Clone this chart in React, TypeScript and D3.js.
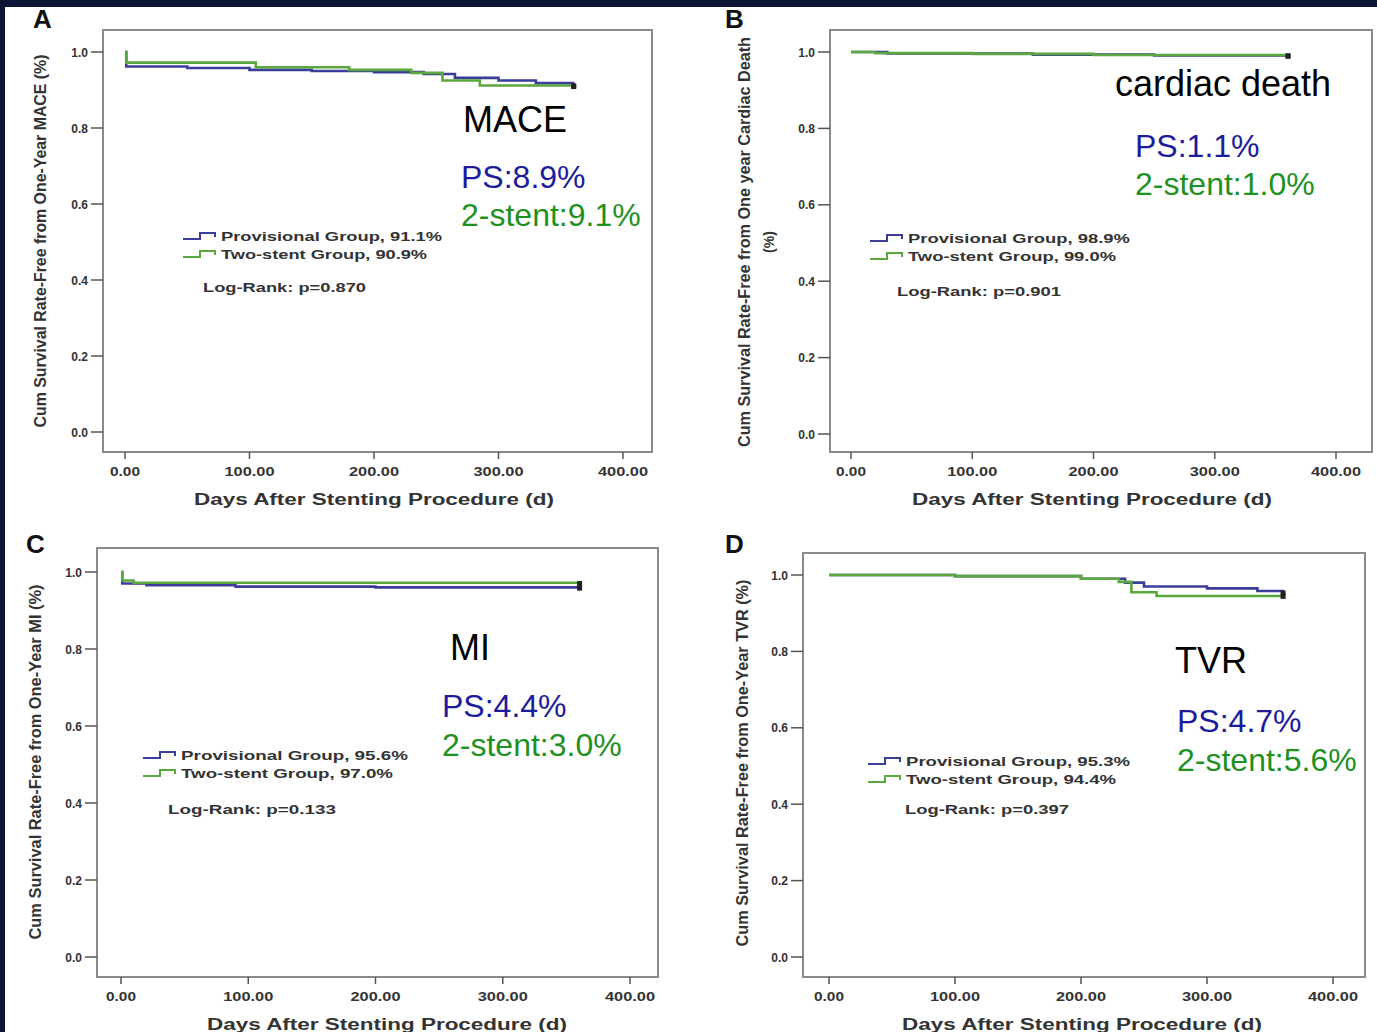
import React from "react";
import * as d3 from "d3";

// survival curves, [day, cum survival]
const maceProv = [[0, 1], [1, 0.962], [50, 0.958], [100, 0.953], [150, 0.95], [200, 0.947], [240, 0.942], [265, 0.932], [300, 0.925], [330, 0.918], [360, 0.911]];
const maceTwo = [[0, 1], [1, 0.972], [105, 0.96], [180, 0.953], [230, 0.945], [255, 0.925], [285, 0.912], [360, 0.909]];
const deathProv = [[0, 1], [30, 0.996], [150, 0.993], [250, 0.991], [360, 0.989]];
const deathTwo = [[0, 1], [20, 0.997], [100, 0.995], [200, 0.992], [360, 0.99]];
const miProv = [[0, 1], [1, 0.97], [20, 0.966], [90, 0.962], [200, 0.96], [360, 0.958]];
const miTwo = [[0, 1], [1, 0.978], [10, 0.972], [360, 0.97]];
const tvrProv = [[0, 1], [100, 0.997], [200, 0.99], [235, 0.98], [250, 0.97], [300, 0.965], [340, 0.958], [360, 0.953]];
const tvrTwo = [[0, 1], [100, 0.997], [200, 0.99], [230, 0.982], [240, 0.955], [260, 0.945], [360, 0.944]];

const xTicks = [0, 100, 200, 300, 400];
const yTicks = [0, 0.2, 0.4, 0.6, 0.8, 1.0];

const letters = ["A", "B", "C", "D"];
const yTitles = [
  ["Cum Survival Rate-Free from One-Year MACE (%)"],
  ["Cum Survival Rate-Free from One year Cardiac Death", "(%)"],
  ["Cum Survival Rate-Free from One-Year MI (%)"],
  ["Cum Survival Rate-Free from One-Year TVR (%)"],
];
const endpoints = ["MACE", "cardiac death", "MI", "TVR"];
const psRates = ["PS:8.9%", "PS:1.1%", "PS:4.4%", "PS:4.7%"];
const twoRates = ["2-stent:9.1%", "2-stent:1.0%", "2-stent:3.0%", "2-stent:5.6%"];
const provLegend = ["Provisional Group, 91.1%", "Provisional Group, 98.9%", "Provisional Group, 95.6%", "Provisional Group, 95.3%"];
const twoLegend = ["Two-stent Group, 90.9%", "Two-stent Group, 99.0%", "Two-stent Group, 97.0%", "Two-stent Group, 94.4%"];
const logRank = ["Log-Rank: p=0.870", "Log-Rank: p=0.901", "Log-Rank: p=0.133", "Log-Rank: p=0.397"];

const curves = [
  [maceProv, maceTwo],
  [deathProv, deathTwo],
  [miProv, miTwo],
  [tvrProv, tvrTwo],
];

// layout of each panel
const panels = [
  { frame: [103, 30, 652, 452], x: [125, 623], y: [432, 52], letter: [33, 28], title: { x: 46, cy: 241, len: 373 },
    xt: { cx: 374, y: 505 }, label: [463, 132], ps: [461, 188], two: [461, 226], leg: [183, 236], legW: [221, 206], lr: [203, 292, 163] },
  { frame: [830, 30, 1372, 452], x: [851, 1336], y: [434, 52], letter: [725, 28], title: { x: 750, cy: 242, len: 410, x2: 774 },
    xt: { cx: 1092, y: 505 }, label: [1115, 96], ps: [1135, 157], two: [1135, 195], leg: [870, 238], legW: [222, 208], lr: [897, 296, 164] },
  { frame: [97, 548, 658, 977], x: [121, 630], y: [957, 572], letter: [26, 553], title: { x: 41, cy: 762, len: 355 },
    xt: { cx: 387, y: 1030 }, label: [450, 660], ps: [442, 717], two: [442, 756], leg: [143, 755], legW: [227, 212], lr: [168, 814, 168] },
  { frame: [803, 553, 1365, 977], x: [829, 1333], y: [957, 575], letter: [725, 553], title: { x: 748, cy: 763, len: 367 },
    xt: { cx: 1082, y: 1030 }, label: [1175, 673], ps: [1177, 732], two: [1177, 771], leg: [868, 761], legW: [224, 210], lr: [905, 814, 164] },
];

const BLUE = "#3b3d9a";
const GREEN = "#5aa83e";
const font = "Liberation Sans, Arial, sans-serif";
const narrow = "Liberation Sans Narrow, Liberation Sans, Arial, sans-serif";

const Panel = ({ i }: { i: number }) => {
  const p = panels[i];
  const [fx0, fy0, fx1, fy1] = p.frame;
  const x = d3.scaleLinear().domain([0, 400]).range(p.x);
  const y = d3.scaleLinear().domain([0, 1]).range(p.y);
  const line = d3
    .line<number[]>()
    .x((d) => x(d[0]))
    .y((d) => y(d[1]))
    .curve(d3.curveStepAfter);
  const colors = [BLUE, GREEN];
  const step = (lx: number, ly: number) => `M${lx},${ly + 3}H${lx + 17}V${ly - 3}H${lx + 32}V${ly + 1}`;
  return (
    <g>
      <rect x={fx0} y={fy0} width={fx1 - fx0} height={fy1 - fy0} fill="none" stroke="#8a8a8a" strokeWidth={2} />
      {yTicks.map((t) => (
        <g key={t}>
          <line x1={fx0 - 12} x2={fx0} y1={y(t)} y2={y(t)} stroke="#555" strokeWidth={1.5} />
          <text x={fx0 - 15} y={y(t) + 4.5} textAnchor="end" fontFamily={font} fontWeight="bold" fontSize={12} fill="#333">
            {t.toFixed(1)}
          </text>
        </g>
      ))}
      {xTicks.map((t) => (
        <g key={t}>
          <line x1={x(t)} x2={x(t)} y1={fy1} y2={fy1 + 7} stroke="#555" strokeWidth={1.5} />
          <text x={x(t)} y={fy1 + 24} textAnchor="middle" fontFamily={narrow} fontWeight="bold" fontSize={13} fill="#333"
            textLength={t === 0 ? 30 : 50} lengthAdjust="spacingAndGlyphs">
            {t.toFixed(2)}
          </text>
        </g>
      ))}
      <text x={p.xt.cx} y={p.xt.y} textAnchor="middle" fontFamily={font} fontWeight="bold" fontSize={16} fill="#333"
        textLength={360} lengthAdjust="spacingAndGlyphs">
        Days After Stenting Procedure (d)
      </text>
      <text transform={`translate(${p.title.x},${p.title.cy}) rotate(-90)`} textAnchor="middle" fontFamily={narrow}
        fontWeight="bold" fontSize={16} fill="#333" textLength={p.title.len} lengthAdjust="spacingAndGlyphs">
        {yTitles[i][0]}
      </text>
      {yTitles[i][1] && (
        <text transform={`translate(${p.title.x2},${p.title.cy}) rotate(-90)`} textAnchor="middle" fontFamily={narrow}
          fontWeight="bold" fontSize={14} fill="#333">
          {yTitles[i][1]}
        </text>
      )}
      <text x={p.letter[0]} y={p.letter[1]} fontFamily={font} fontWeight="bold" fontSize={26} fill="#111">
        {letters[i]}
      </text>
      {curves[i].map((c, k) => (
        <g key={k}>
          <path d={line(c as number[][]) || ""} fill="none" stroke={colors[k]} strokeWidth={2.6} />
          <rect x={x(c[c.length - 1][0]) - 2} y={y(c[c.length - 1][1]) - 2.5} width={5} height={5} fill="#222" />
        </g>
      ))}
      <path d={step(p.leg[0], p.leg[1])} fill="none" stroke={BLUE} strokeWidth={2} />
      <path d={step(p.leg[0], p.leg[1] + 18)} fill="none" stroke={GREEN} strokeWidth={2} />
      <text x={p.leg[0] + 38} y={p.leg[1] + 4.5} fontFamily={font} fontWeight="bold" fontSize={13.5} fill="#333"
        textLength={p.legW[0]} lengthAdjust="spacingAndGlyphs">
        {provLegend[i]}
      </text>
      <text x={p.leg[0] + 38} y={p.leg[1] + 22.5} fontFamily={font} fontWeight="bold" fontSize={13.5} fill="#333"
        textLength={p.legW[1]} lengthAdjust="spacingAndGlyphs">
        {twoLegend[i]}
      </text>
      <text x={p.lr[0]} y={p.lr[1]} fontFamily={font} fontWeight="bold" fontSize={13.5} fill="#333"
        textLength={p.lr[2]} lengthAdjust="spacingAndGlyphs">
        {logRank[i]}
      </text>
      <text x={p.label[0]} y={p.label[1]} fontFamily={font} fontSize={36} fill="#000">
        {endpoints[i]}
      </text>
      <text x={p.ps[0]} y={p.ps[1]} fontFamily={font} fontSize={32} fill="#1c1c9c">
        {psRates[i]}
      </text>
      <text x={p.two[0]} y={p.two[1]} fontFamily={font} fontSize={32} fill="#1f911f">
        {twoRates[i]}
      </text>
    </g>
  );
};

export default function App() {
  return (
    <div style={{ position: "absolute", left: 0, top: 0 }}>
      <svg width={1377} height={1032} style={{ display: "block" }}>
        <rect x={0} y={0} width={1377} height={1032} fill="#0b1636" />
        <rect x={5} y={7} width={1372} height={1025} fill="#fff" />
        {panels.map((_, i) => (
          <Panel key={i} i={i} />
        ))}
      </svg>
    </div>
  );
}
